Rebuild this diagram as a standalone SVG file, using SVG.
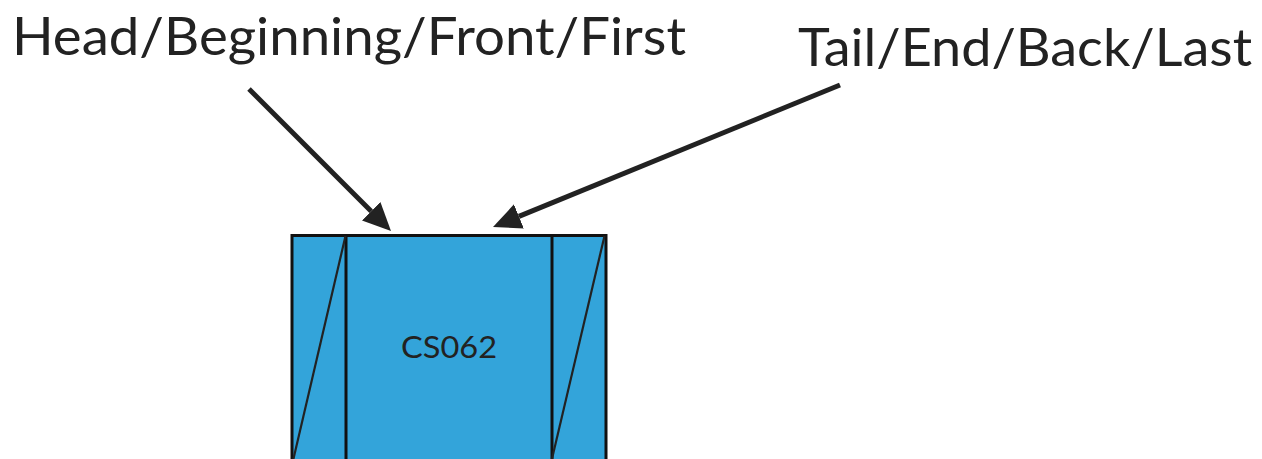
<svg xmlns="http://www.w3.org/2000/svg" width="1262" height="459" viewBox="0 0 1262 459">
<style>
.lbl{font-family:Lato,"Noto Sans","DejaVu Sans",sans-serif;fill:#222222;}
.big{font-size:52px;}
.cell{fill:#33A4DA;stroke:#111111;stroke-width:3;}
.div{stroke:#111111;stroke-width:3;fill:none;}
.diag{stroke:#222222;stroke-width:2.2;fill:none;}
.conn{stroke:#222222;stroke-width:5;fill:none;marker-end:url(#ah);}
</style>
<defs>
<marker id="ah" markerUnits="userSpaceOnUse" markerWidth="30" markerHeight="28" refX="0" refY="13" orient="auto">
<path d="M0,0 L28,13 L0,26 z" fill="#222222"/>
</marker>
</defs>
<rect width="1262" height="459" fill="#ffffff"/>
<g id="label-head">
<text class="lbl big" x="12" y="55" textLength="674" lengthAdjust="spacingAndGlyphs">Head/Beginning/Front/First</text>
</g>
<g id="label-tail">
<text class="lbl big" x="798" y="66" textLength="454" lengthAdjust="spacingAndGlyphs">Tail/End/Back/Last</text>
</g>
<g id="node-cs062">
<rect class="cell" x="292" y="235.5" width="314" height="300"/>
<line class="div" x1="346" y1="235.5" x2="346" y2="470"/>
<line class="div" x1="552" y1="235.5" x2="552" y2="470"/>
<line class="diag" x1="292.5" y1="463" x2="345.5" y2="236"/>
<line class="diag" x1="551" y1="463" x2="604.5" y2="236"/>
<text class="lbl" x="401" y="357.5" font-size="31" textLength="96" lengthAdjust="spacingAndGlyphs">CS062</text>
</g>
<g id="connectors">
<line class="conn" x1="249" y1="89" x2="371.2" y2="211.2"/>
<line class="conn" x1="840" y1="85" x2="518.9" y2="216.4"/>
</g>
</svg>
